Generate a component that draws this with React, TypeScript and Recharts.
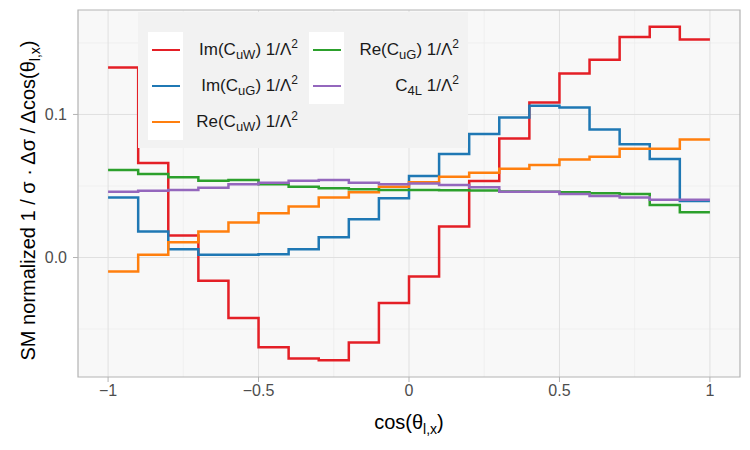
import React from 'react'
import {
  LineChart,
  Line,
  XAxis,
  YAxis,
  CartesianGrid,
  Legend,
  Label,
  ReferenceArea,
} from 'recharts'

// bin edges of cos(theta_l,x), 20 bins
const binEdges = [-1, -0.9, -0.8, -0.7, -0.6, -0.5, -0.4, -0.3, -0.2, -0.1, 0, 0.1, 0.2, 0.3, 0.4, 0.5, 0.6, 0.7, 0.8, 0.9, 1]

const imCuW = [0.1328, 0.066, 0.0154, -0.0162, -0.0423, -0.0627, -0.0706, -0.0718, -0.0593, -0.0318, -0.0132, 0.0216, 0.0535, 0.0832, 0.1083, 0.1286, 0.1383, 0.1541, 0.1613, 0.1523]
const imCuG = [0.0419, 0.0182, 0.0058, 0.0019, 0.0019, 0.0023, 0.0058, 0.0142, 0.0268, 0.0414, 0.057, 0.0723, 0.0863, 0.0979, 0.106, 0.1049, 0.0895, 0.0791, 0.0688, 0.0395]
const reCuW = [-0.0097, 0.0019, 0.0107, 0.0182, 0.0244, 0.0309, 0.0356, 0.0419, 0.0456, 0.0495, 0.0526, 0.0565, 0.0593, 0.0621, 0.0646, 0.0686, 0.0705, 0.076, 0.076, 0.0825]
const reCuG = [0.0612, 0.0584, 0.0561, 0.0537, 0.0542, 0.0513, 0.0495, 0.0484, 0.0477, 0.0472, 0.0472, 0.047, 0.0468, 0.0462, 0.046, 0.0456, 0.0449, 0.0444, 0.0367, 0.0316]
const c4L = [0.046, 0.0467, 0.0472, 0.0488, 0.0513, 0.0523, 0.0537, 0.0542, 0.0523, 0.0513, 0.0518, 0.0507, 0.0491, 0.046, 0.046, 0.0444, 0.043, 0.042, 0.0403, 0.0403]

const xTicks = [-1, -0.5, 0, 0.5, 1]
const xMinor = [-0.75, -0.25, 0.25, 0.75]
const yTicks = [0, 0.1]
const yMinor = [-0.05, 0.05, 0.15]

const xDomain = [-1.1, 1.1]
const yDomain = [-0.0835, 0.173]

const series = [
  { key: 'imCuW', values: imCuW, color: '#E41F26', pre: 'Im(C', sub: 'uW', post: ') 1/Λ' },
  { key: 'imCuG', values: imCuG, color: '#1F78B4', pre: 'Im(C', sub: 'uG', post: ') 1/Λ' },
  { key: 'reCuW', values: reCuW, color: '#FF7F0E', pre: 'Re(C', sub: 'uW', post: ') 1/Λ' },
  { key: 'reCuG', values: reCuG, color: '#2CA02C', pre: 'Re(C', sub: 'uG', post: ') 1/Λ' },
  { key: 'c4L', values: c4L, color: '#9467BD', pre: 'C', sub: '4L', post: ' 1/Λ' },
]

// stepAfter needs a closing point at the last edge
const data = binEdges.map((x, i) => {
  const row: Record<string, number> = { x }
  series.forEach((s) => {
    row[s.key] = s.values[Math.min(i, s.values.length - 1)]
  })
  return row
})

const FONT = '"Liberation Sans", Arial, sans-serif'

const fmtTick = (v: number) => (v < 0 ? '\u2212' + Math.abs(v) : String(v))

function LegendBox() {
  return (
    <div
      style={{
        background: '#F2F2F2',
        padding: '20px 10px 8px 10px',
        display: 'grid',
        gridAutoFlow: 'column',
        gridTemplateRows: 'repeat(3, 36px)',
        columnGap: 11,
        fontFamily: FONT,
        fontSize: 17,
        color: '#1A1A1A',
        width: 310,
      }}
    >
      {series.map((s) => (
        <div key={s.key} style={{ display: 'flex', alignItems: 'center', height: 36 }}>
          <div
            style={{
              width: 35,
              height: 36,
              background: '#FFFFFF',
              display: 'flex',
              alignItems: 'center',
              justifyContent: 'center',
            }}
          >
            <div style={{ width: 28, height: 2.5, background: s.color }} />
          </div>
          <div style={{ width: 115, textAlign: 'right', whiteSpace: 'nowrap', lineHeight: '36px' }}>
            {s.pre}
            <span style={{ fontSize: 13, position: 'relative', top: 4 }}>{s.sub}</span>
            {s.post}
            <span style={{ fontSize: 12, position: 'relative', top: -7 }}>2</span>
          </div>
        </div>
      ))}
    </div>
  )
}

export default function App() {
  return (
    <div style={{ position: 'absolute', left: 0, top: 0, width: 750, height: 450, background: '#fff' }}>
      <LineChart width={750} height={450} data={data} margin={{ top: 10, right: 10, left: 8, bottom: 0 }}>
        <CartesianGrid
          fill="#F8F8F8"
          stroke="#EDEDED"
          strokeWidth={0.8}
          horizontalValues={yMinor}
          verticalValues={xMinor}
        />
        <CartesianGrid
          fill="none"
          stroke="#E0E0E0"
          strokeWidth={1}
          horizontalValues={yTicks}
          verticalValues={xTicks}
        />
        <XAxis
          dataKey="x"
          type="number"
          domain={xDomain}
          ticks={xTicks}
          allowDataOverflow
          tickFormatter={fmtTick}
          axisLine={false}
          tickLine={{ stroke: '#B3B3B3' }}
          tickSize={5}
          tickMargin={3}
          height={73}
          tick={{ fill: '#4D4D4D', fontSize: 16, fontFamily: FONT }}
        >
          <Label
            content={({ viewBox }: any) => (
              <text
                x={viewBox.x + viewBox.width / 2}
                y={viewBox.y + 52}
                textAnchor="middle"
                fontFamily={FONT}
                fontSize={20}
                fill="#000"
              >
                cos(θ
                <tspan fontSize={14} dy={5}>l,x</tspan>
                <tspan dy={-5}>)</tspan>
              </text>
            )}
          />
        </XAxis>
        <YAxis
          type="number"
          domain={yDomain}
          ticks={yTicks}
          allowDataOverflow
          tickFormatter={(v: number) => v.toFixed(1)}
          axisLine={false}
          tickLine={{ stroke: '#B3B3B3' }}
          tickSize={5}
          tickMargin={6}
          width={70}
          tick={{ fill: '#4D4D4D', fontSize: 16, fontFamily: FONT }}
        >
          <Label
            content={({ viewBox }: any) => {
              const cx = 35
              const cy = viewBox.y + viewBox.height / 2 + 7
              return (
                <text
                  x={cx}
                  y={cy}
                  transform={`rotate(-90 ${cx} ${cy})`}
                  textAnchor="middle"
                  fontFamily={FONT}
                  fontSize={20}
                  fill="#000"
                >
                  SM normalized 1 / σ · Δσ / Δcos(θ
                  <tspan fontSize={14} dy={5}>l,x</tspan>
                  <tspan dy={-5}>)</tspan>
                </text>
              )
            }}
          />
        </YAxis>
        <ReferenceArea
          x1={xDomain[0]}
          x2={xDomain[1]}
          y1={yDomain[0]}
          y2={yDomain[1]}
          fill="none"
          stroke="#B3B3B3"
          strokeWidth={1.2}
        />
        <Legend
          layout="vertical"
          align="center"
          verticalAlign="middle"
          wrapperStyle={{ left: 138, top: 12, width: 330 }}
          content={() => <LegendBox />}
        />
        {series.map((s) => (
          <Line
            key={s.key}
            type="stepAfter"
            dataKey={s.key}
            name={s.key}
            stroke={s.color}
            strokeWidth={2.5}
            dot={false}
            activeDot={false}
            isAnimationActive={false}
          />
        ))}
      </LineChart>
    </div>
  )
}
